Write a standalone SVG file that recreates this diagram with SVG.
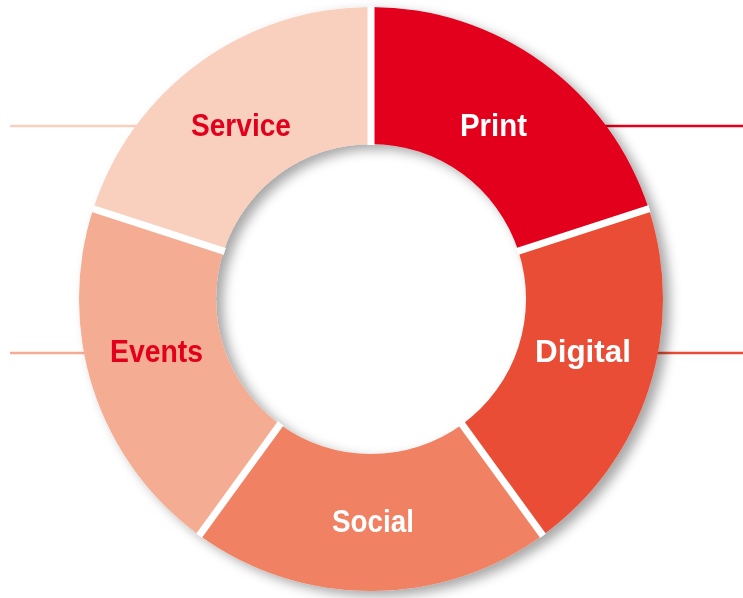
<svg xmlns="http://www.w3.org/2000/svg" width="743" height="598" viewBox="0 0 743 598">
  <style>
    .lbl { font-family: "Liberation Sans", Arial, sans-serif; font-weight: bold; font-size: 31px; text-anchor: middle; }
    .w { fill: #ffffff; }
    .r { fill: #E2001A; }
    .gap { stroke: #ffffff; stroke-width: 7; }
    .lead { stroke-width: 2.5; fill: none; }
  </style>
  <defs>
    <filter id="shadow" x="-10%" y="-10%" width="125%" height="125%">
      <feDropShadow dx="7" dy="5" stdDeviation="6" flood-color="#000000" flood-opacity="0.35"/>
    </filter>
  </defs>
  <rect width="743" height="598" fill="#ffffff"/>
  <g id="connectors">
    <line class="lead" x1="10" y1="126" x2="200" y2="126" stroke="#F9D0BE"/>
    <line class="lead" x1="10" y1="353" x2="150" y2="353" stroke="#F4AC92"/>
    <line class="lead" x1="560" y1="126" x2="743" y2="126" stroke="#E2001A"/>
    <line class="lead" x1="600" y1="353" x2="743" y2="353" stroke="#E94E36"/>
  </g>
  <g filter="url(#shadow)">
    <g id="print">
      <path d="M371,7 A292,292 0 0 1 648.71,208.77 L518.41,251.10 A155,155 0 0 0 371,144 Z" fill="#E2001A"/>
      <text class="lbl w" x="493.5" y="136" textLength="67" lengthAdjust="spacingAndGlyphs">Print</text>
    </g>
    <g id="digital">
      <path d="M648.71,208.77 A292,292 0 0 1 542.63,535.23 L462.11,424.40 A155,155 0 0 0 518.41,251.10 Z" fill="#E94E36"/>
      <text class="lbl w" x="583" y="362" textLength="96" lengthAdjust="spacingAndGlyphs">Digital</text>
    </g>
    <g id="social">
      <path d="M542.63,535.23 A292,292 0 0 1 199.37,535.23 L279.89,424.40 A155,155 0 0 0 462.11,424.40 Z" fill="#F08162"/>
      <text class="lbl w" x="373" y="532" textLength="82" lengthAdjust="spacingAndGlyphs">Social</text>
    </g>
    <g id="events">
      <path d="M199.37,535.23 A292,292 0 0 1 93.29,208.77 L223.59,251.10 A155,155 0 0 0 279.89,424.40 Z" fill="#F4AC92"/>
      <text class="lbl r" x="156.5" y="362" textLength="93" lengthAdjust="spacingAndGlyphs">Events</text>
    </g>
    <g id="service">
      <path d="M93.29,208.77 A292,292 0 0 1 371,7 L371,144 A155,155 0 0 0 223.59,251.10 Z" fill="#F9D0BE"/>
      <text class="lbl r" x="241" y="136" textLength="100" lengthAdjust="spacingAndGlyphs">Service</text>
    </g>
    <g id="gaps">
      <line class="gap" x1="371" y1="145" x2="371" y2="6.5"/>
      <line class="gap" x1="517.5" y1="251.4" x2="649.2" y2="208.6"/>
      <line class="gap" x1="461.5" y1="423.6" x2="542.9" y2="535.6"/>
      <line class="gap" x1="280.5" y1="423.6" x2="199.1" y2="535.6"/>
      <line class="gap" x1="224.5" y1="251.4" x2="92.8" y2="208.6"/>
    </g>
  </g>
</svg>
